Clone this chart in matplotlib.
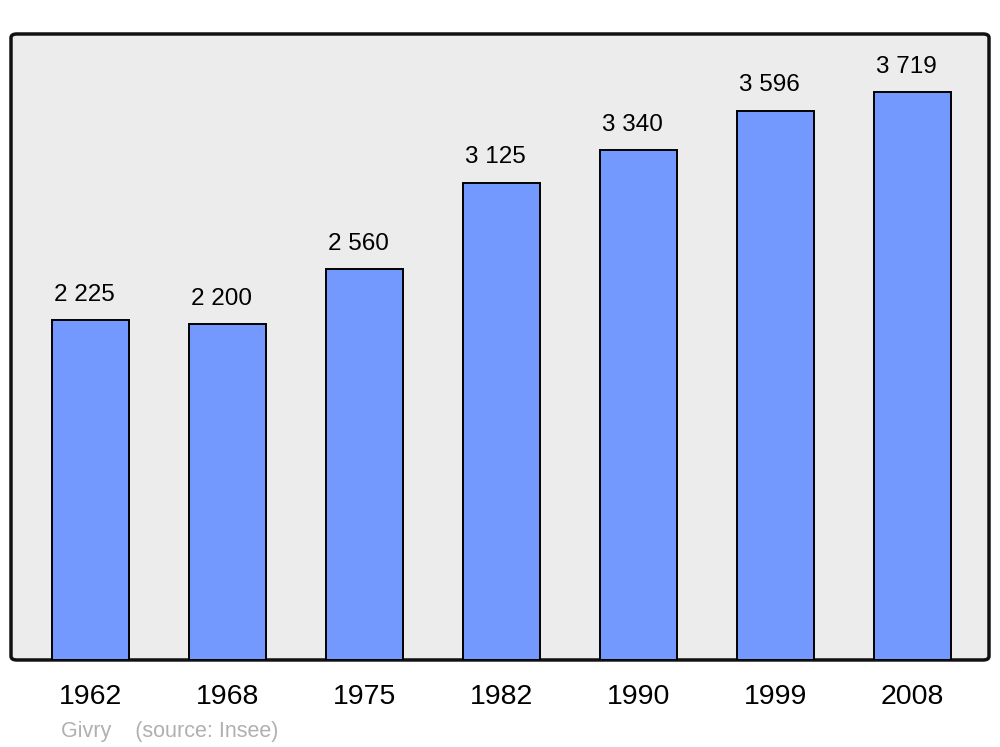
import matplotlib.pyplot as plt
from matplotlib.patches import FancyBboxPatch

plt.rcParams['font.family'] = ['Liberation Sans', 'DejaVu Sans']

# population de Givry
annees = ['1962', '1968', '1975', '1982', '1990', '1999', '2008']
population = [2225, 2200, 2560, 3125, 3340, 3596, 3719]
etiquettes = ['2 225', '2 200', '2 560', '3 125', '3 340', '3 596', '3 719']

fig = plt.figure(figsize=(10, 7.47), dpi=100)
ax = fig.add_axes([0.011, 0.1165, 0.978, 0.838])
ax.set_facecolor('none')

# fond gris aux coins arrondis
fond = FancyBboxPatch((0, 0), 1, 1, boxstyle='round,pad=0,rounding_size=0.006',
                      transform=ax.transAxes, facecolor='#ececec',
                      edgecolor='#111111', linewidth=2.5, zorder=0,
                      clip_on=False)
ax.add_patch(fond)
for s in ax.spines.values():
    s.set_visible(False)

x = list(range(len(annees)))
ax.bar(x, population, width=0.565, color='#7399ff', edgecolor='black',
       linewidth=1.4, zorder=2)

for i, (v, t) in enumerate(zip(population, etiquettes)):
    ax.annotate(t, (i, v), xytext=(-4.5, 14), textcoords='offset points',
                ha='center', va='baseline', fontsize=17.5, color='black')

ax.set_xlim(-0.58, 6.56)
ax.set_ylim(0, 4100)
ax.set_yticks([])
ax.set_xticks(x)
ax.set_xticklabels(annees, fontsize=20.5)
ax.tick_params(axis='x', length=0, pad=17)

fig.text(0.061, 0.013, 'Givry    (source: Insee)', fontsize=15.5,
         color='#b0b0b0', ha='left', va='baseline')

fig.savefig('out.png', dpi=100)
